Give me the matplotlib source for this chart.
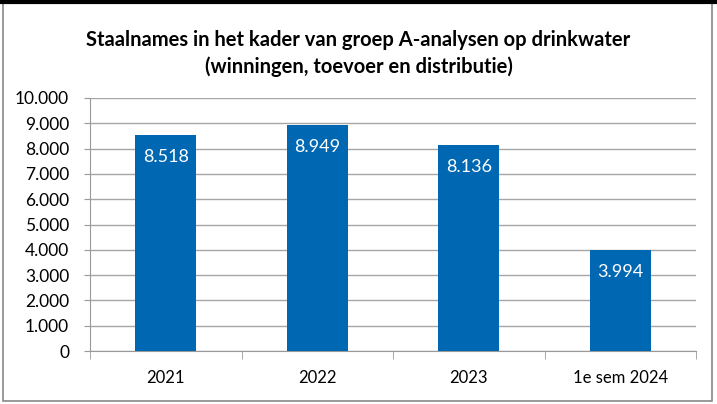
import matplotlib
matplotlib.use("Agg")
import matplotlib.pyplot as plt
from matplotlib.patches import Rectangle
from matplotlib.lines import Line2D

categories = ["2021", "2022", "2023", "1e sem 2024"]
values = [8518, 8949, 8136, 3994]
value_labels = ["8.518", "8.949", "8.136", "3.994"]
yticks = [0, 1000, 2000, 3000, 4000, 5000, 6000, 7000, 8000, 9000, 10000]
ytick_labels = ["0", "1.000", "2.000", "3.000", "4.000", "5.000", "6.000", "7.000", "8.000", "9.000", "10.000"]
title_lines = ["Staalnames in het kader van groep A-analysen op drinkwater",
               "(winningen, toevoer en distributie)"]

plt.rcParams['font.family'] = ['Lato', 'DejaVu Sans']
W, H = 717, 404
fig = plt.figure(figsize=(W/100, H/100), dpi=100)
ax = fig.add_axes([90/W, 1-351/H, (696-90)/W, (351-98)/H])

bar_color = "#0067B2"
x = list(range(len(categories)))
ax.bar(x, values, width=0.4, color=bar_color, zorder=3)
for xi, v, lab in zip(x, values, value_labels):
    ax.annotate(lab, (xi, v), xytext=(0, -22), textcoords='offset pixels',
                ha='center', va='center', color='white', fontsize=13, zorder=4)

ax.set_xlim(-0.5, len(categories)-0.5)
ax.set_ylim(0, 10000)
ax.set_yticks(yticks)
ax.set_yticklabels(ytick_labels, fontsize=12.5)
ax.set_xticks(x)
ax.set_xticklabels(categories, fontsize=12)
ax.tick_params(axis='x', length=0, pad=14)
ax.set_xticks([i - 0.5 for i in range(len(categories)+1)], minor=True)
ax.tick_params(axis='x', which='minor', length=6, color='#999999')
ax.tick_params(axis='y', length=4, color='#999999', pad=11)
ax.yaxis.grid(True, color='#A6A6A6', linewidth=1, zorder=0)
ax.set_axisbelow(True)
for s in ['top', 'right']:
    ax.spines[s].set_visible(False)
for s in ['left', 'bottom']:
    ax.spines[s].set_color('#999999')

fig.text(0.5, 1-40/H, title_lines[0], ha='center', va='center', fontsize=14.5, fontweight='bold')
fig.text(0.5, 1-67/H, title_lines[1], ha='center', va='center', fontsize=14.5, fontweight='bold')

# outer border
fig.patches.append(Rectangle((3/W, 3/H), (W-8)/W, (H-6)/H, transform=fig.transFigure,
                             fill=False, edgecolor='#888888', linewidth=1.2))
fig.lines.append(Line2D([0, 1], [1-1.5/H, 1-1.5/H], transform=fig.transFigure,
                        color='black', linewidth=3))

fig.savefig("out.png", dpi=100)
